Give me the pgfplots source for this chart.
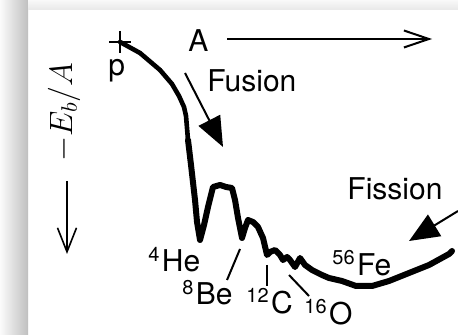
\documentclass[border=0pt]{standalone}
\usepackage{fontspec}
\setmainfont{TeX Gyre Heros}
\usepackage{pgfplots}
\pgfplotsset{compat=1.18}
\usetikzlibrary{arrows.meta}
\newcommand{\iso}[2]{\raisebox{5.5pt}{\fontsize{10}{12}\selectfont #1}\kern1.2pt#2}
\begin{document}
\begin{tikzpicture}
\fill[white] (0,0) rectangle (229pt,167.5pt);
\shade[left color=gray!3, right color=gray!50] (0,0) rectangle (14pt,167.5pt);
\shade[top color=gray!5, bottom color=gray!18] (14pt,162.5pt) rectangle (229pt,167.5pt);
\begin{axis}[at={(0,0)}, anchor=south west, scale only axis, width=229pt, height=167.5pt,
  xmin=0, xmax=458, ymin=0, ymax=335, y dir=reverse, hide axis, clip=false]
% binding-energy curve (schematic, pixel-like units)
\addplot[black, line width=2.3pt, line join=round, line cap=round] coordinates {
 (120,42) (140,53) (160,70) (172,84) (179,96) (184,107) (186,116) (187,128) (188,140)};
\addplot[black, line width=3pt, line join=round, line cap=round] coordinates {
 (188,140) (191,165) (195,200) (197,222) (200,240) (204,225) (208,207) (213,187)
 (220,185) (226,187) (232,188) (235,200) (238,218) (242,238) (245,228) (248,220)
 (253,222) (258,227) (263,238) (267,255) (270,252) (275,250) (280,255) (283,260)
 (287,257) (290,260) (295,267) (300,258) (305,265) (312,270) (322,275) (329,278)
 (342,281) (356,286) (372,286) (389,281) (409,273) (429,265) (449,254) (452,251)};
\addplot[black, only marks, mark=+, mark size=5.5pt, line width=1.2pt] coordinates {(120,42)};
% labels
\node[anchor=base west, inner sep=0, font=\fontsize{15}{18}\selectfont] at (axis cs:108,76) {p};
\node[anchor=base west, inner sep=0, font=\fontsize{15}{18}\selectfont] at (axis cs:188,52) {A};
\node[anchor=base west, inner sep=0, font=\fontsize{15}{18}\selectfont] at (axis cs:207,92) {Fusion};
\node[anchor=base west, inner sep=0, font=\fontsize{15}{18}\selectfont] at (axis cs:347,200) {Fission};
\node[anchor=base west, inner sep=0, font=\fontsize{15}{18}\selectfont] at (axis cs:148,272) {\iso{4}{He}};
\node[anchor=base west, inner sep=0, font=\fontsize{15}{18}\selectfont] at (axis cs:182,305) {\iso{8}{Be}};
\node[anchor=base west, inner sep=0, font=\fontsize{15}{18}\selectfont] at (axis cs:246,314) {\iso{12}{C}};
\node[anchor=base west, inner sep=0, font=\fontsize{15}{18}\selectfont] at (axis cs:304,324) {\iso{16}{O}};
\node[anchor=base west, inner sep=0, font=\fontsize{15}{18}\selectfont] at (axis cs:332,276) {\iso{56}{Fe}};
\node[rotate=90, scale=1.12, inner sep=0, font=\fontsize{14.4}{17}\selectfont] at (axis cs:64,112) {$-E_b/A$};
% pointer lines
\draw[line width=1pt] (axis cs:240,249) -- (axis cs:227,280);
\draw[line width=1pt] (axis cs:267,265) -- (axis cs:267,286);
\draw[line width=1pt] (axis cs:289,275) -- (axis cs:309,296);
% arrows
\draw[line width=1pt, -{Straight Barb[length=12.5pt,width=8.5pt]}] (axis cs:227,39) -- (axis cs:432,39);
\draw[line width=0.8pt, -{Straight Barb[length=12pt,width=9.5pt]}] (axis cs:67,181) -- (axis cs:67,254);
\draw[line width=1pt, -{Triangle[length=15pt,width=12pt]}] (axis cs:185,73) -- (axis cs:223,147);
\draw[line width=1pt, -{Triangle[length=15pt,width=12.5pt]}] (axis cs:458,211) -- (axis cs:409,241);
\end{axis}
\pgfresetboundingbox
\path[use as bounding box] (0,0) rectangle (229pt,167.5pt);
\end{tikzpicture}
\end{document}
